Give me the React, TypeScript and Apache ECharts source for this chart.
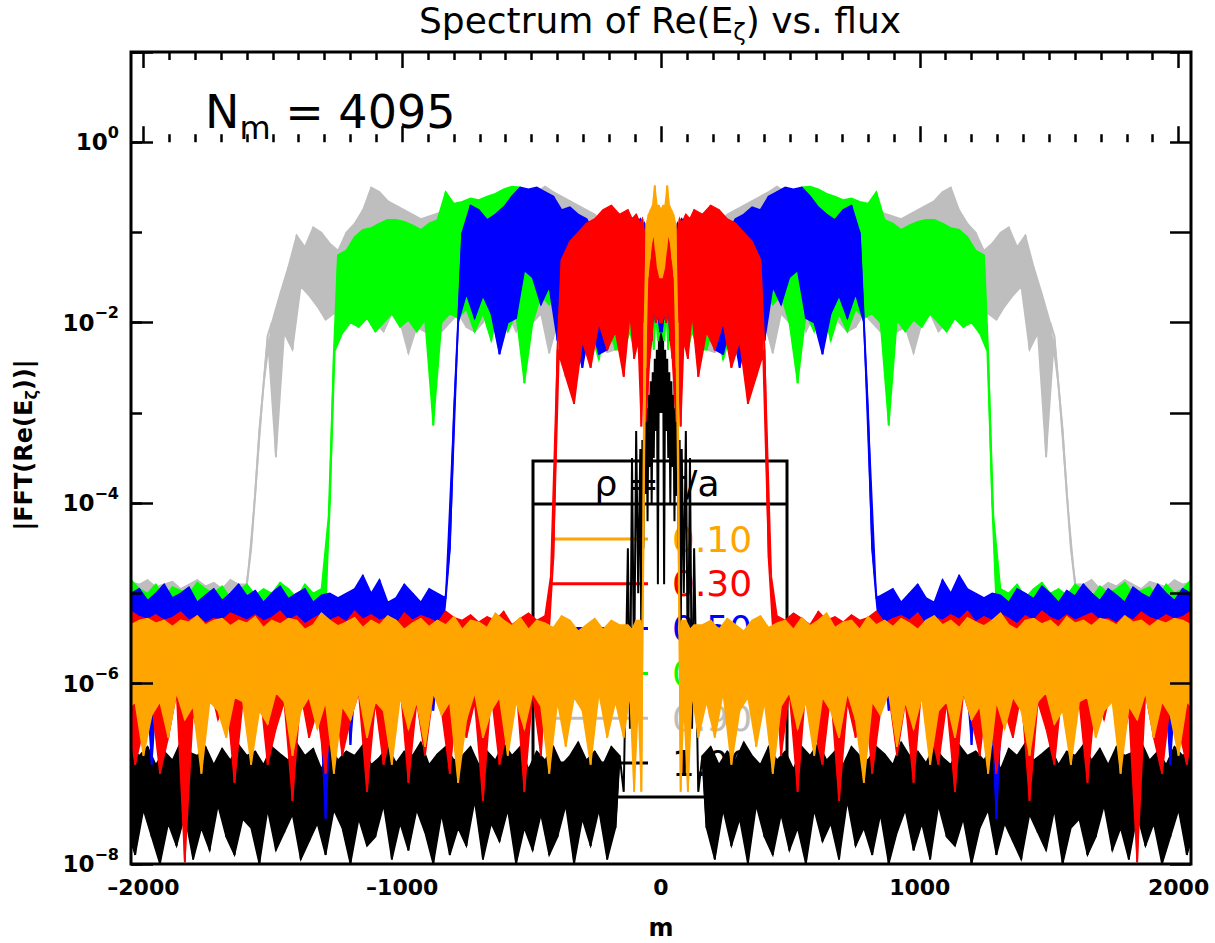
import React, { useEffect, useRef } from 'react';
import * as echarts from 'echarts';

// Mode number bins (m >= 0); every bin carries the top and bottom of the |FFT| band (log10).
const BIN_M = [
  0, 8, 16, 24, 32, 40, 48, 56, 64, 72,
  80, 96, 112, 128, 160, 192, 224, 256, 288, 320,
  352, 384, 416, 448, 480, 512, 544, 576, 608, 640,
  672, 704, 736, 768, 800, 832, 864, 896, 928, 960,
  992, 1024, 1056, 1088, 1120, 1152, 1184, 1216, 1248, 1280,
  1312, 1344, 1376, 1408, 1440, 1472, 1504, 1536, 1568, 1600,
  1632, 1664, 1696, 1728, 1760, 1792, 1824, 1856, 1888, 1920,
  1952, 1984, 2016, 2048,
];

// rho = 0.10
const ORANGE_HI = [
  -0.75, -0.7, -0.7, -0.48, -0.7, -0.75, -0.8, -0.9, -2.0, -5.5,
  -5.3, -5.3, -5.4, -5.35, -5.35, -5.3, -5.4, -5.28, -5.35, -5.42,
  -5.3, -5.25, -5.38, -5.33, -5.3, -5.4, -5.27, -5.36, -5.3, -5.22,
  -5.38, -5.32, -5.3, -5.4, -5.26, -5.35, -5.3, -5.37, -5.28, -5.33,
  -5.4, -5.3, -5.25, -5.35, -5.3, -5.38, -5.27, -5.32, -5.36, -5.3,
  -5.22, -5.35, -5.4, -5.3, -5.28, -5.34, -5.3, -5.38, -5.26, -5.33,
  -5.3, -5.36, -5.28, -5.3, -5.35, -5.25, -5.32, -5.3, -5.37, -5.3,
  -5.33, -5.28, -5.3, -5.35,
];
const ORANGE_LO = [
  -1.5, -1.4, -1.2, -1.0, -1.1, -1.3, -1.5, -2.5, -4.5, -7.2,
  -6.2, -7.2, -6.1, -6.6, -6.2, -6.6, -6.1, -6.9, -6.3, -6.15,
  -6.7, -6.2, -7.0, -6.25, -6.1, -6.5, -6.2, -6.8, -6.15, -6.3,
  -6.6, -6.1, -6.4, -7.1, -6.2, -6.35, -6.1, -6.7, -6.2, -6.5,
  -6.15, -6.9, -6.3, -6.2, -6.6, -6.1, -6.4, -6.25, -7.0, -6.2,
  -6.5, -6.15, -6.3, -6.8, -6.2, -6.1, -6.45, -6.3, -6.9, -6.2,
  -6.15, -6.6, -6.3, -6.2, -7.0, -6.25, -6.4, -6.1, -6.6, -6.2,
  -6.35, -6.8, -6.2, -6.3,
];

// rho = 0.30
const RED_HI = [
  -1.3, -1.2, -1.1, -1.2, -1.0, -0.9, -1.0, -0.95, -1.0, -0.85,
  -0.9, -0.8, -0.85, -0.75, -0.8, -0.7, -0.75, -0.85, -0.9, -1.0,
  -1.1, -1.3, -4.6, -5.25, -5.3, -5.22, -5.28, -5.35, -5.2, -5.3,
  -5.26, -5.32, -5.24, -5.3, -5.27, -5.2, -5.33, -5.28, -5.25, -5.3,
  -5.22, -5.35, -5.27, -5.3, -5.24, -5.29, -5.2, -5.32, -5.26, -5.3,
  -5.23, -5.28, -5.34, -5.25, -5.3, -5.2, -5.27, -5.31, -5.24, -5.3,
  -5.26, -5.22, -5.3, -5.28, -5.33, -5.25, -5.3, -5.21, -5.27, -5.3,
  -5.24, -5.29, -5.26, -5.2,
];
const RED_LO = [
  -2.0, -1.9, -2.0, -1.8, -2.2, -2.4, -2.8, -3.1, -2.5, -3.15,
  -2.2, -2.4, -1.9, -2.6, -2.1, -2.3, -2.0, -2.5, -2.2, -2.9,
  -2.6, -2.3, -5.35, -6.8, -6.1, -7.2, -6.0, -6.5, -6.9, -6.1,
  -7.3, -6.2, -6.6, -6.0, -7.0, -6.3, -6.1, -6.8, -6.2, -7.1,
  -6.0, -6.5, -6.9, -6.2, -7.2, -6.1, -6.4, -6.8, -6.0, -7.0,
  -6.3, -6.6, -6.1, -7.3, -6.2, -6.5, -6.9, -6.0, -6.7, -6.2,
  -7.1, -6.1, -6.4, -6.0, -6.8, -6.3, -7.98, -6.1, -6.6, -7.0,
  -6.2, -6.5, -6.9, -6.3,
];

// rho = 0.50
const BLUE_HI = [
  -1.3, -1.2, -1.1, -1.2, -1.0, -0.95, -0.9, -1.0, -0.9, -0.95,
  -0.85, -0.9, -1.0, -1.05, -1.2, -1.3, -1.1, -1.0, -0.85, -0.8,
  -0.72, -0.75, -0.6, -0.55, -0.5, -0.52, -0.5, -0.6, -0.72, -0.8,
  -0.86, -0.75, -0.7, -1.0, -3.0, -5.05, -5.0, -4.95, -5.1, -5.0,
  -4.9, -5.05, -5.1, -4.85, -5.0, -4.8, -4.95, -5.0, -5.05, -5.0,
  -5.02, -5.1, -4.95, -5.0, -5.06, -4.92, -5.0, -5.1, -4.97, -5.03,
  -4.9, -5.0, -5.08, -4.95, -5.02, -5.1, -4.93, -5.0, -5.05, -4.9,
  -5.0, -5.08, -4.95, -5.0,
];
const BLUE_LO = [
  -2.1, -1.9, -2.0, -1.8, -2.2, -2.0, -1.9, -2.1, -1.8, -2.3,
  -1.9, -2.2, -1.8, -2.1, -2.0, -2.3, -2.35, -2.0, -2.5, -2.1,
  -1.9, -2.2, -1.6, -1.8, -1.5, -1.42, -1.95, -2.0, -2.35, -1.9,
  -1.7, -1.95, -1.68, -2.0, -4.5, -5.5, -6.3, -5.45, -5.6, -6.0,
  -5.5, -6.8, -5.45, -5.55, -6.2, -5.5, -6.68, -5.45, -5.5, -7.5,
  -5.6, -5.5, -6.1, -5.45, -5.55, -6.4, -5.5, -5.6, -6.9, -5.45,
  -5.5, -6.0, -5.55, -5.5, -6.5, -5.45, -5.6, -5.5, -6.2, -5.5,
  -6.9, -5.45, -5.55, -6.1,
];

// rho = 0.70
const GREEN_HI = [
  -1.25, -1.2, -1.15, -1.1, -1.2, -1.05, -1.1, -1.0, -1.1, -1.0,
  -1.05, -0.95, -1.0, -1.1, -1.0, -1.05, -0.95, -1.0, -0.9, -0.85,
  -0.8, -0.75, -0.7, -0.62, -0.6, -0.55, -0.5, -0.49, -0.52, -0.57,
  -0.6, -0.64, -0.62, -0.66, -0.68, -0.55, -0.86, -0.9, -0.97, -0.92,
  -0.88, -0.86, -0.86, -0.9, -0.95, -0.97, -1.05, -1.2, -1.25, -4.0,
  -4.95, -5.0, -4.9, -5.05, -4.95, -4.88, -5.0, -4.95, -5.02, -4.9,
  -4.97, -5.05, -4.92, -5.0, -4.95, -4.88, -5.0, -4.97, -4.93, -5.05,
  -4.9, -5.0, -4.95, -4.85,
];
const GREEN_LO = [
  -2.1, -2.2, -1.9, -2.3, -2.0, -2.2, -1.95, -2.3, -2.1, -2.25,
  -2.0, -2.3, -2.1, -2.3, -2.3, -2.0, -2.41, -2.1, -2.2, -1.9,
  -2.0, -1.6, -1.8, -1.7, -2.0, -2.67, -1.9, -2.1, -1.8, -2.2,
  -1.9, -2.1, -1.85, -1.95, -1.9, -2.0, -3.14, -1.97, -2.1, -1.97,
  -2.05, -1.9, -2.0, -2.1, -1.95, -2.05, -2.0, -2.12, -2.34, -5.1,
  -5.3, -5.35, -5.25, -5.4, -5.3, -5.2, -5.35, -5.3, -5.25, -5.4,
  -5.3, -5.35, -5.28, -5.3, -5.4, -5.25, -5.3, -5.35, -5.3, -5.25,
  -5.4, -5.3, -5.35, -5.3,
];

// rho = 0.90
const GRAY_HI = [
  -1.1, -1.05, -1.0, -1.05, -0.95, -1.0, -0.95, -1.0, -0.9, -0.95,
  -0.9, -0.95, -0.9, -0.85, -0.9, -0.85, -0.9, -0.8, -0.75, -0.7,
  -0.65, -0.6, -0.55, -0.49, -0.55, -0.6, -0.62, -0.65, -0.7, -0.72,
  -0.75, -0.7, -0.75, -0.78, -0.8, -0.75, -0.79, -0.82, -0.85, -0.8,
  -0.75, -0.7, -0.65, -0.55, -0.5, -0.75, -0.9, -1.0, -1.2, -1.12,
  -1.0, -0.94, -1.16, -1.03, -1.38, -1.68, -2.0, -2.7, -3.9, -4.9,
  -4.9, -4.85, -4.95, -4.88, -4.92, -4.85, -4.9, -4.95, -4.87, -4.9,
  -4.93, -4.85, -4.9, -4.88,
];
const GRAY_LO = [
  -2.05, -2.1, -1.97, -2.08, -2.2, -2.0, -2.15, -2.05, -2.2, -2.0,
  -2.1, -2.2, -2.0, -2.15, -2.3, -2.33, -2.1, -2.2, -2.0, -2.1,
  -1.9, -2.0, -2.34, -1.9, -2.0, -1.8, -2.1, -1.9, -2.12, -1.75,
  -2.0, -2.1, -2.05, -1.9, -2.0, -2.1, -2.0, -2.1, -2.05, -2.34,
  -2.0, -1.9, -2.1, -2.0, -1.95, -2.05, -1.95, -1.93, -1.9, -1.97,
  -1.82, -1.7, -1.6, -2.3, -2.12, -3.49, -2.15, -3.2, -4.5, -5.2,
  -5.2, -5.25, -5.15, -5.3, -5.2, -5.25, -5.2, -5.15, -5.3, -5.2,
  -5.25, -5.2, -5.15, -5.2,
];

// rho = 1.00
const BLACK_HI = [
  -2.05, -2.1, -2.3, -2.4, -2.55, -2.65, -2.8, -2.95, -3.1, -3.3,
  -3.4, -3.2, -3.5, -4.5, -6.8, -6.7, -6.9, -6.75, -6.85, -6.65,
  -6.8, -6.9, -6.7, -6.85, -6.75, -6.95, -6.7, -6.8, -6.66, -6.85,
  -6.75, -6.9, -6.7, -6.8, -6.85, -6.7, -6.78, -6.9, -6.65, -6.8,
  -6.75, -6.88, -6.7, -6.82, -6.9, -6.68, -6.8, -6.75, -6.85, -6.7,
  -6.95, -6.72, -6.8, -6.66, -6.85, -6.78, -6.7, -6.9, -6.75, -6.8,
  -6.68, -6.85, -6.72, -6.9, -6.7, -6.8, -6.76, -6.65, -6.85, -6.75,
  -6.9, -6.7, -6.8, -6.72,
];
const BLACK_LO = [
  -3.0, -4.9, -3.2, -3.5, -4.0, -3.6, -4.2, -3.9, -4.5, -5.8,
  -5.0, -6.0, -6.5, -7.2, -7.6, -7.95, -7.4, -7.8, -7.5, -8.0,
  -7.35, -7.7, -7.9, -7.45, -7.85, -7.6, -8.0, -7.4, -7.75, -7.55,
  -7.95, -7.3, -7.8, -7.6, -7.9, -7.45, -8.0, -7.65, -7.4, -7.85,
  -7.55, -7.95, -7.35, -7.7, -7.8, -7.5, -8.0, -7.6, -7.4, -7.9,
  -7.55, -7.75, -7.95, -7.45, -7.65, -7.85, -7.4, -8.0, -7.6, -7.5,
  -7.9, -7.7, -7.35, -7.85, -7.6, -7.95, -7.45, -7.8, -7.55, -8.0,
  -7.7, -7.4, -7.9, -7.6,
];

const X_TICKS_MIN = -2000;
const X_TICKS_MAX = 2000;
const M_MIN = -2048;
const M_MAX = 2048;
const LOG_MIN = -8;
const LOG_MAX = 1;

// Legend entries, top to bottom
const LEGEND_LABELS = ['0.10', '0.30', '0.50', '0.70', '0.90', '1.00'];
const LEGEND_COLORS = ['#FFA500', '#FF0000', '#0000FF', '#00FF00', '#BEBEBE', '#000000'];

// Drawing order, bottom to top. fillFrom: |m| from which the band between the
// envelopes is filled (the 1.00 core is left as separate strokes).
const CURVES = [
  { name: '1.00', color: '#000000', hi: BLACK_HI, lo: BLACK_LO, fillFrom: 160 },
  { name: '0.90', color: '#BEBEBE', hi: GRAY_HI, lo: GRAY_LO, fillFrom: 0 },
  { name: '0.70', color: '#00FF00', hi: GREEN_HI, lo: GREEN_LO, fillFrom: 0 },
  { name: '0.50', color: '#0000FF', hi: BLUE_HI, lo: BLUE_LO, fillFrom: 0 },
  { name: '0.30', color: '#FF0000', hi: RED_HI, lo: RED_LO, fillFrom: 0 },
  { name: '0.10', color: '#FFA500', hi: ORANGE_HI, lo: ORANGE_LO, fillFrom: 0 },
];

type Pt = [number, number];

// Top of each bin at the bin start, bottom at the bin middle (m >= 0 half).
function halfBand(hi: number[], lo: number[]) {
  const top: Pt[] = [];
  const bot: Pt[] = [];
  for (let i = 0; i < BIN_M.length; i++) {
    const m0 = BIN_M[i];
    const m1 = i + 1 < BIN_M.length ? BIN_M[i + 1] : m0 + 32;
    top.push([m0, Math.pow(10, hi[i])]);
    bot.push([(m0 + m1) / 2, Math.pow(10, lo[i])]);
  }
  return { top, bot };
}

const mirror = (pts: Pt[]) => pts.map((p) => [-p[0], p[1]] as Pt).reverse();

// The spectrum of a real field is even in m: the m < 0 half mirrors the m > 0 half.
function buildCurve(hi: number[], lo: number[]): Pt[] {
  const { top, bot } = halfBand(hi, lo);
  const right: Pt[] = [];
  top.forEach((p, i) => {
    right.push(p);
    right.push(bot[i]);
  });
  const left = mirror(right.filter((p) => p[0] > 0));
  return [...left, ...right];
}

// Closed outlines of the filled band: one across m = 0, or a left and a right piece.
function buildBand(hi: number[], lo: number[], fillFrom: number): Pt[][] {
  const { top, bot } = halfBand(hi, lo);
  if (fillFrom <= 0) {
    const fullTop = [...mirror(top.filter((p) => p[0] > 0)), ...top];
    const fullBot = [...mirror(bot), ...bot];
    return [[...fullTop, ...fullBot.slice().reverse()]];
  }
  const t = top.filter((p) => p[0] >= fillFrom);
  const b = bot.filter((p) => p[0] >= fillFrom);
  const rightPiece = [...t, ...b.slice().reverse()];
  const leftPiece = rightPiece.map((p) => [-p[0], p[1]] as Pt);
  return [leftPiece, rightPiece];
}

const FONT = 'DejaVu Sans';

export default function App() {
  const ref = useRef<HTMLDivElement>(null);

  useEffect(() => {
    if (!ref.current) return;
    const chart = echarts.init(ref.current, undefined, { renderer: 'svg' });

    const W = 1215;
    const left = 131;
    const right = 24;
    const top = 52;
    const bottom = 79;
    const plotW = W - left - right;
    const pad = ((X_TICKS_MIN - M_MIN) / (M_MAX - M_MIN)) * plotW;

    const tickStyle = { color: '#000', width: 2.5 };

    const xTickAxis = (position: 'top' | 'bottom', labels: boolean) => ({
      gridIndex: 1,
      type: 'value',
      position,
      min: X_TICKS_MIN,
      max: X_TICKS_MAX,
      interval: 1000,
      axisLine: { show: false },
      axisTick: { show: true, inside: true, length: 16, lineStyle: tickStyle },
      minorTick: { show: true, splitNumber: 10, length: 8, lineStyle: tickStyle },
      splitLine: { show: false },
      axisLabel: {
        show: labels,
        margin: 12,
        color: '#000',
        fontFamily: FONT,
        fontWeight: 'bold',
        fontSize: 22,
        formatter: (v: number) => (v < 0 ? '\u2013' + Math.abs(v) : String(v)),
      },
      z: 30,
    });

    const legendY0 = 539;
    const legendStep = 44.8;
    const legendGraphics: any[] = [
      {
        type: 'rect',
        shape: { x: 533, y: 461, width: 254, height: 336 },
        style: { fill: 'none', stroke: '#000', lineWidth: 3 },
        z: 0,
      },
      {
        type: 'line',
        shape: { x1: 533, y1: 504, x2: 787, y2: 504 },
        style: { stroke: '#000', lineWidth: 3 },
        z: 0,
      },
      {
        type: 'text',
        x: 657,
        y: 483,
        style: {
          text: '\u03c1 = r/a',
          fill: '#000',
          font: `36px "${FONT}"`,
          align: 'center',
          verticalAlign: 'middle',
        },
        z: 0,
      },
    ];
    LEGEND_LABELS.forEach((label, i) => {
      const y = legendY0 + i * legendStep;
      legendGraphics.push({
        type: 'line',
        shape: { x1: 552, y1: y, x2: 648, y2: y },
        style: { stroke: LEGEND_COLORS[i], lineWidth: 3 },
        z: 0,
      });
      legendGraphics.push({
        type: 'text',
        x: 672,
        y,
        style: {
          text: label,
          fill: LEGEND_COLORS[i],
          font: `36px "${FONT}"`,
          align: 'left',
          verticalAlign: 'middle',
        },
        z: 0,
      });
    });

    const series: any[] = [];
    CURVES.forEach((c, k) => {
      const pieces = buildBand(c.hi, c.lo, c.fillFrom);
      const layer = 2 + k;
      series.push({
        name: c.name,
        type: 'custom',
        coordinateSystem: 'cartesian2d',
        xAxisIndex: 0,
        yAxisIndex: 0,
        silent: true,
        clip: true,
        data: [[0, 1]],
        renderItem: (_params: any, api: any) => ({
          type: 'group',
          children: pieces.map((piece) => ({
            type: 'polygon',
            shape: { points: piece.map((p) => api.coord(p)) },
            style: { fill: c.color, stroke: c.color, lineWidth: 1.5, lineJoin: 'miter' },
          })),
        }),
        z: layer,
      });
      series.push({
        name: c.name,
        type: 'line',
        xAxisIndex: 0,
        yAxisIndex: 0,
        data: buildCurve(c.hi, c.lo),
        showSymbol: false,
        symbol: 'none',
        silent: true,
        clip: true,
        lineStyle: { color: c.color, width: 2, join: 'miter', miterLimit: 2 },
        itemStyle: { color: c.color },
        z: layer,
      });
    });

    const option: any = {
      animation: false,
      backgroundColor: '#fff',
      grid: [
        {
          left,
          right,
          top,
          bottom,
          show: true,
          borderColor: '#000',
          borderWidth: 3,
          backgroundColor: 'transparent',
          z: 30,
        },
        { left: left + pad, right: right + pad, top, bottom, show: false },
      ],
      xAxis: [
        { gridIndex: 0, type: 'value', min: M_MIN, max: M_MAX, show: false },
        xTickAxis('bottom', true),
        xTickAxis('top', false),
      ],
      yAxis: [
        { gridIndex: 0, type: 'log', logBase: 10, min: Math.pow(10, LOG_MIN), max: Math.pow(10, LOG_MAX), show: false },
        {
          gridIndex: 0,
          type: 'value',
          position: 'left',
          min: LOG_MIN,
          max: LOG_MAX,
          interval: 2,
          axisLine: { show: false },
          axisTick: { show: true, inside: true, length: 22, lineStyle: tickStyle },
          splitLine: { show: false },
          axisLabel: {
            margin: 12,
            color: '#000',
            formatter: (v: number) =>
              Math.abs(v % 2) < 1e-9 ? `{b|10}{e|${v < 0 ? '\u2212' + Math.abs(v) : v}}` : '',
            rich: {
              b: { fontFamily: FONT, fontWeight: 'bold', fontSize: 23, lineHeight: 36, color: '#000' },
              e: { fontFamily: FONT, fontWeight: 'bold', fontSize: 16, lineHeight: 16, verticalAlign: 'top', color: '#000' },
            },
          },
          z: 30,
        },
        {
          gridIndex: 0,
          type: 'value',
          position: 'left',
          min: LOG_MIN,
          max: LOG_MAX,
          interval: 1,
          axisLine: { show: false },
          axisTick: { show: true, inside: true, length: 11, lineStyle: tickStyle },
          splitLine: { show: false },
          axisLabel: { show: false },
          z: 30,
        },
        {
          gridIndex: 0,
          type: 'value',
          position: 'right',
          min: LOG_MIN,
          max: LOG_MAX,
          interval: 1,
          axisLine: { show: false },
          axisTick: { show: true, inside: true, length: 21, lineStyle: tickStyle },
          splitLine: { show: false },
          axisLabel: { show: false },
          z: 30,
        },
        { gridIndex: 1, type: 'value', min: LOG_MIN, max: LOG_MAX, show: false },
      ],
      series,
      graphic: [
        ...legendGraphics,
        {
          type: 'text',
          x: 660,
          y: 20,
          style: {
            text: '{a|Spectrum of Re(E}{s|\u03b6}{a|) vs. flux}',
            align: 'center',
            verticalAlign: 'middle',
            rich: {
              a: { fontFamily: FONT, fontSize: 36, lineHeight: 46, color: '#000' },
              s: { fontFamily: FONT, fontSize: 23, lineHeight: 23, verticalAlign: 'bottom', color: '#000' },
            },
          },
          z: 40,
        },
        {
          type: 'text',
          x: 205,
          y: 112,
          style: {
            text: '{a|N}{s|m}{a| = 4095}',
            align: 'left',
            verticalAlign: 'middle',
            rich: {
              a: { fontFamily: FONT, fontSize: 46, lineHeight: 64, color: '#000' },
              s: { fontFamily: FONT, fontSize: 32, lineHeight: 32, verticalAlign: 'bottom', color: '#000' },
            },
          },
          z: 40,
        },
        {
          type: 'text',
          x: 24,
          y: 445,
          rotation: Math.PI / 2,
          style: {
            text: '{a||FFT(Re(E}{s|\u03b6}{a|))|}',
            align: 'center',
            verticalAlign: 'middle',
            rich: {
              a: { fontFamily: FONT, fontWeight: 'bold', fontSize: 24, lineHeight: 30, color: '#000' },
              s: { fontFamily: FONT, fontWeight: 'bold', fontSize: 16, lineHeight: 16, verticalAlign: 'bottom', color: '#000' },
            },
          },
          z: 40,
        },
        {
          type: 'text',
          x: 661,
          y: 928,
          style: {
            text: 'm',
            fill: '#000',
            font: `bold 24px "${FONT}"`,
            align: 'center',
            verticalAlign: 'middle',
          },
          z: 40,
        },
      ],
    };

    chart.setOption(option);
    return () => chart.dispose();
  }, []);

  return (
    <div
      ref={ref}
      style={{ position: 'absolute', left: 0, top: 0, width: 1215, height: 943, background: '#fff' }}
    />
  );
}
